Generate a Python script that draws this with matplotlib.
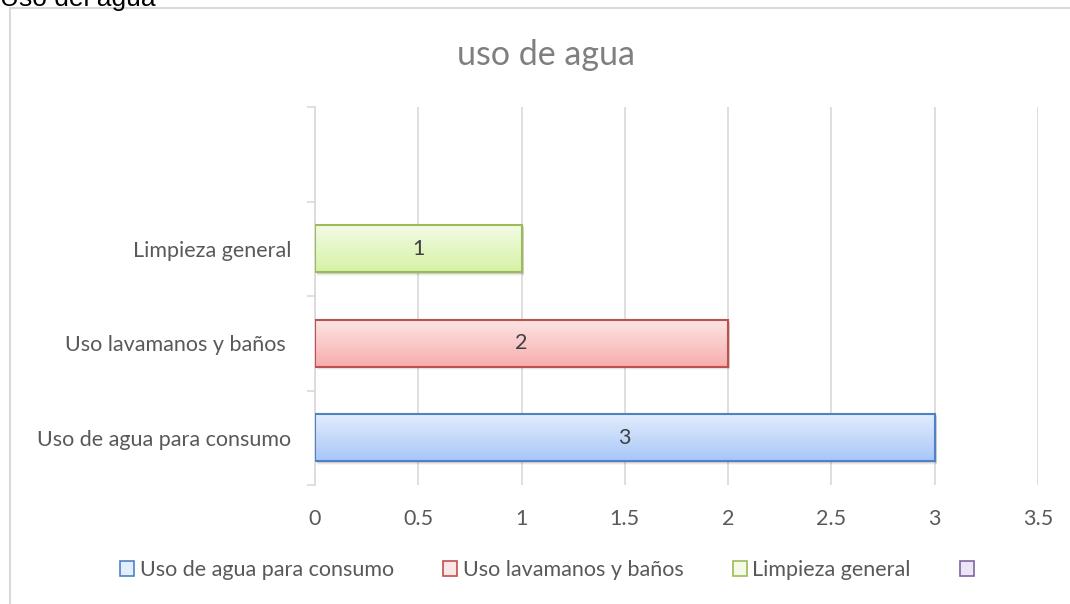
import matplotlib.pyplot as plt
import matplotlib.colors as colors
from matplotlib.patches import Patch, Rectangle
from matplotlib.lines import Line2D
import numpy as np

plt.rcParams['font.family'] = ['Lato', 'DejaVu Sans']

categories = ['Uso de agua para consumo', 'Uso lavamanos y baños ', 'Limpieza general', '']
values = [3, 2, 1, None]
legendLabels = ['Uso de agua para consumo', 'Uso lavamanos y baños', 'Limpieza general', '']
xTicks = [0, 0.5, 1, 1.5, 2, 2.5, 3, 3.5]

# top colour, bottom colour, edge colour
barStyles = [
    ('#e3edfd', '#a8c7f7', '#4f81c4'),
    ('#fde6e6', '#f6adac', '#c0504d'),
    ('#f3fbe6', '#d6f2a6', '#9bbb59'),
    ('#ece6f4', '#d3c6e6', '#8064a2'),
]

GREY_TEXT = '#595959'
GRID = '#d9d9d9'
FS = 15.5

def gradientBar(ax, y, width, height, top, bottom, edge):
    cmap = colors.LinearSegmentedColormap.from_list('g', [top, bottom])
    grad = np.linspace(0, 1, 64).reshape(-1, 1)
    # soft shadow below the bar
    for k, a in enumerate([0.10, 0.06, 0.03]):
        off = 0.012 * (k + 1)
        ax.add_patch(Rectangle((0.01, y - height / 2 - off), width, height,
                               facecolor='black', edgecolor='none', alpha=a, zorder=2))
    ax.imshow(grad, cmap=cmap, aspect='auto', origin='upper',
              extent=(0, width, y - height / 2, y + height / 2), zorder=3)
    ax.add_patch(Rectangle((0, y - height / 2), width, height, facecolor='none',
                           edgecolor=edge, linewidth=1.5, zorder=4))

fig = plt.figure(figsize=(10.70, 6.04), dpi=100)
ax = fig.add_axes([315 / 1070, 1 - 485 / 604, (1038 - 315) / 1070, (485 - 107) / 604])

yPos = np.arange(len(categories))
for i, v in enumerate(values):
    if v is None:
        continue
    top, bottom, edge = barStyles[i]
    gradientBar(ax, yPos[i], v, 0.5, top, bottom, edge)
    ax.text(v / 2, yPos[i], str(v), ha='center', va='center', fontsize=FS,
            color='#404040', zorder=5)

ax.set_xlim(0, 3.5)
ax.set_ylim(-0.5, len(categories) - 0.5)
ax.set_xticks(xTicks)
ax.set_xticklabels([('%g' % t) for t in xTicks], fontsize=FS, color=GREY_TEXT)
ax.set_yticks(yPos)
ax.set_yticklabels(categories, fontsize=FS, color=GREY_TEXT)
ax.set_yticks(np.arange(len(categories) + 1) - 0.5, minor=True)
ax.tick_params(axis='y', which='major', length=0, pad=17)
ax.tick_params(axis='y', which='minor', length=6, color=GRID, width=1.2)
ax.tick_params(axis='x', length=0, pad=17)
ax.grid(axis='x', color=GRID, linewidth=1.2, zorder=0)
ax.set_axisbelow(True)
for s in ['top', 'right', 'bottom']:
    ax.spines[s].set_visible(False)
ax.spines['left'].set_color(GRID)
ax.spines['left'].set_linewidth(1.2)

fig.text(546 / 1070, 1 - 55 / 604, 'uso de agua', ha='center', va='center',
         fontsize=24.5, color='#7f7f7f')
fig.text(0, 1 - 6 / 604, 'Uso del agua', ha='left', va='baseline',
         fontsize=19, color='black', family=['Liberation Sans', 'DejaVu Sans'])

# chart area border (left and top only visible)
fig.add_artist(Line2D([10 / 1070, 10 / 1070], [0, 1 - 8 / 604], color='#d9d9d9', linewidth=1.5))
fig.add_artist(Line2D([10 / 1070, 1], [1 - 8 / 604, 1 - 8 / 604], color='#d9d9d9', linewidth=1.5))

handles = [Patch(facecolor=s[0], edgecolor=s[2], linewidth=1.2) for s in barStyles]
fig.legend(handles, legendLabels, loc='center', bbox_to_anchor=(550 / 1070, 1 - 570 / 604),
           ncol=4, frameon=False, fontsize=FS, labelcolor=GREY_TEXT,
           handlelength=0.65, handleheight=0.65, handletextpad=0.25, columnspacing=2.3)

fig.savefig('out.png', dpi=100)
